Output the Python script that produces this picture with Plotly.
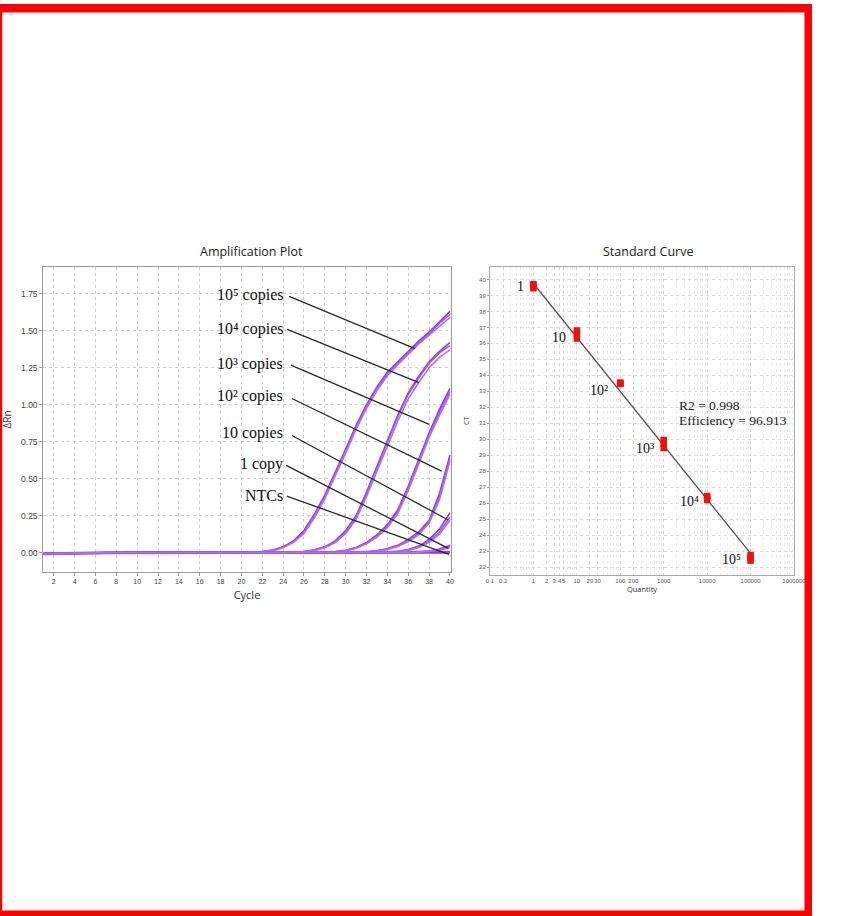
import math
import plotly.graph_objects as go

# ---------------- Amplification plot data ----------------
cycles = list(range(1, 41))
baseline = [-0.007, -0.005, -0.003, -0.002, -0.001, -0.001, 0.000, 0.000, 0.001, 0.001,
            0.002, 0.001, 0.001, 0.000, 0.001, 0.001, 0.001, 0.001, 0.002, 0.002,
            0.002, 0.002, 0.002, 0.002, 0.002, 0.002, 0.002, 0.002, 0.002, 0.003,
            0.003, 0.003, 0.003, 0.003, 0.003, 0.003, 0.004, 0.004, 0.004, 0.004]

# rising part of each replicate; first value belongs to the start cycle
start_1e5 = 21
rise_1e5_a = [0.004, 0.008, 0.018, 0.04, 0.08, 0.15, 0.26, 0.39, 0.54, 0.70, 0.86, 1.00, 1.12, 1.22, 1.29, 1.36, 1.43, 1.49, 1.56, 1.63]
rise_1e5_b = [0.003, 0.007, 0.016, 0.037, 0.075, 0.14, 0.25, 0.38, 0.53, 0.69, 0.85, 0.99, 1.11, 1.21, 1.28, 1.35, 1.42, 1.48, 1.55, 1.61]
rise_1e5_c = [0.003, 0.006, 0.014, 0.033, 0.07, 0.13, 0.235, 0.365, 0.515, 0.675, 0.835, 0.975, 1.095, 1.195, 1.27, 1.34, 1.41, 1.47, 1.53, 1.59]

start_1e4 = 25
rise_1e4_a = [0.003, 0.008, 0.02, 0.04, 0.08, 0.15, 0.25, 0.41, 0.58, 0.75, 0.93, 1.08, 1.19, 1.29, 1.36, 1.42]
rise_1e4_b = [0.003, 0.007, 0.018, 0.037, 0.075, 0.14, 0.24, 0.40, 0.57, 0.74, 0.92, 1.07, 1.18, 1.28, 1.35, 1.40]
rise_1e4_c = [0.002, 0.006, 0.015, 0.033, 0.068, 0.13, 0.225, 0.38, 0.55, 0.72, 0.89, 1.04, 1.15, 1.25, 1.32, 1.37]

start_1e3 = 28
rise_1e3_a = [0.003, 0.008, 0.017, 0.036, 0.07, 0.12, 0.19, 0.29, 0.45, 0.63, 0.81, 0.97, 1.11]
rise_1e3_b = [0.003, 0.007, 0.015, 0.033, 0.065, 0.115, 0.18, 0.28, 0.44, 0.62, 0.80, 0.95, 1.09]
rise_1e3_c = [0.002, 0.006, 0.013, 0.03, 0.06, 0.105, 0.17, 0.265, 0.42, 0.60, 0.78, 0.93, 1.07]

start_1e2 = 31
rise_1e2_a = [0.003, 0.007, 0.014, 0.028, 0.05, 0.09, 0.14, 0.22, 0.40, 0.66]
rise_1e2_b = [0.002, 0.006, 0.012, 0.025, 0.046, 0.083, 0.13, 0.21, 0.38, 0.64]
rise_1e2_c = [0.002, 0.005, 0.011, 0.022, 0.042, 0.076, 0.12, 0.20, 0.36, 0.62]

start_10 = 34
rise_10_a = [0.004, 0.01, 0.022, 0.045, 0.09, 0.16, 0.27]
rise_10_b = [0.003, 0.008, 0.018, 0.04, 0.08, 0.14, 0.24]
rise_10_c = [0.003, 0.007, 0.016, 0.035, 0.07, 0.125, 0.22]

start_1 = 37
rise_1_a = [0.006, 0.012, 0.025, 0.05]
rise_1_b = [0.005, 0.01, 0.02, 0.04]
rise_1_c = [0.004, 0.009, 0.018, 0.035]

amp_labels = ["10⁵ copies", "10⁴ copies", "10³ copies", "10² copies",
              "10 copies", "1 copy", "NTCs"]

# ---------------- Standard curve data ----------------
quantities = [1, 10, 100, 1000, 10000, 100000]
ct_rep1 = [39.45, 36.30, 33.45, 29.45, 26.20, 22.40]
ct_rep2 = [39.60, 36.60, 33.50, 29.70, 26.35, 22.60]
ct_rep3 = [39.70, 36.80, 33.55, 29.95, 26.45, 22.75]
fit_q = [1, 100000]
fit_ct = [39.75, 22.85]
std_labels = ["1", "10", "10²", "10³", "10⁴", "10⁵"]
r2_text = "R2 = 0.998"
eff_text = "Efficiency = 96.913"
sc_tick_vals = [0.1, 0.2, 1, 2, 3, 4, 5, 10, 20, 30, 100, 200, 1000, 10000, 100000, 1000000]
sc_tick_text = ["0.1", "0.2", "1", "2", "3", "4", "5", "10", "20", "30", "100", "200",
                "1000", "10000", "100000", "1000000"]

# ---------------- Figure ----------------
W, H = 859, 916
fig = go.Figure()

purple = ["rgb(140,60,222)", "rgb(160,85,235)", "rgb(175,110,242)"]
groups = [
    (start_1e5, [rise_1e5_a, rise_1e5_b, rise_1e5_c]),
    (start_1e4, [rise_1e4_a, rise_1e4_b, rise_1e4_c]),
    (start_1e3, [rise_1e3_a, rise_1e3_b, rise_1e3_c]),
    (start_1e2, [rise_1e2_a, rise_1e2_b, rise_1e2_c]),
    (start_10, [rise_10_a, rise_10_b, rise_10_c]),
    (start_1, [rise_1_a, rise_1_b, rise_1_c]),
]
# NTC baseline
fig.add_trace(go.Scatter(x=cycles, y=baseline, mode="lines",
                         line=dict(color="rgb(140,60,222)", width=3.0),
                         xaxis="x", yaxis="y", showlegend=False, hoverinfo="skip"))
for start, reps in groups:
    for i, rise in enumerate(reps):
        y = baseline[:start - 1] + rise
        fig.add_trace(go.Scatter(x=cycles, y=y, mode="lines",
                                 line=dict(color=purple[i], width=1.6),
                                 xaxis="x", yaxis="y", showlegend=False))

# standard curve
fig.add_trace(go.Scatter(x=fit_q, y=fit_ct, mode="lines",
                         line=dict(color="#555555", width=1.3),
                         xaxis="x2", yaxis="y2", showlegend=False))
for reps in (ct_rep1, ct_rep2, ct_rep3):
    fig.add_trace(go.Scatter(x=quantities, y=reps, mode="markers",
                             marker=dict(symbol="square", size=6.5, color="#ff0a0a",
                                         line=dict(width=0)),
                             xaxis="x2", yaxis="y2", showlegend=False))

def px2x(px):
    return px / W

def px2y(py):
    return 1 - py / H

# domains (pixel based)
L_left, L_right, L_top, L_bot = 43.3, 450.7, 267, 572
R_left, R_right, R_top, R_bot = 490, 794, 266.7, 575

grid = "#cfcfcf"

fig.update_layout(
    width=W, height=H, margin=dict(l=0, r=0, t=0, b=0),
    paper_bgcolor="white", plot_bgcolor="white", showlegend=False,
    xaxis=dict(domain=[px2x(L_left), px2x(L_right)], anchor="y",
               range=[1, 40.07], tickvals=list(range(2, 41, 2)), tickangle=0,
               showgrid=True, gridcolor=grid, griddash="dot", gridwidth=1,
               showline=True, mirror=True, linecolor="#9a9a9a", linewidth=1,
               ticks="outside", ticklen=3, tickcolor="#9a9a9a",
               tickfont=dict(family="Liberation Sans, Arial", size=7, color="#444"),
               zeroline=False, automargin=False,
               title=dict(text="Cycle", standoff=6,
                          font=dict(family="Open Sans, Arial", size=11, color="#333"))),
    yaxis=dict(domain=[px2y(L_bot), px2y(L_top)], anchor="x",
               range=[-0.13, 1.93], tickvals=[0, 0.25, 0.5, 0.75, 1.0, 1.25, 1.5, 1.75],
               tickformat=".2f",
               showgrid=True, gridcolor=grid, griddash="dot", gridwidth=1,
               showline=True, mirror=True, linecolor="#9a9a9a", linewidth=1,
               ticks="outside", ticklen=3, tickcolor="#9a9a9a",
               tickfont=dict(family="Liberation Sans, Arial", size=8.5, color="#444"),
               zeroline=False, automargin=False,
               title=dict(text="ΔRn", standoff=8,
                          font=dict(family="Open Sans, Arial", size=10, color="#333"))),
    xaxis2=dict(domain=[px2x(R_left), px2x(R_right)], anchor="y2", type="log",
                range=[-1, 6], tickmode="array", tickvals=sc_tick_vals, ticktext=sc_tick_text,
                tickangle=0,
                showgrid=True, gridcolor="#d6d6d6", griddash="dot",
                minor=dict(dtick="D1", showgrid=True, gridcolor="#ececec", griddash="dot"),
                showline=True, mirror=True, linecolor="#a8a8a8", linewidth=1,
                ticks="", tickfont=dict(family="Liberation Sans, Arial", size=6, color="#555"),
                zeroline=False, automargin=False,
                title=dict(text="Quantity", standoff=3,
                           font=dict(family="Open Sans, Arial", size=7.5, color="#333"))),
    yaxis2=dict(domain=[px2y(R_bot), px2y(R_top)], anchor="x2",
                range=[21.5, 40.8], dtick=1, tick0=0,
                showgrid=True, gridcolor="#dcdcdc", griddash="dot",
                showline=True, mirror=True, linecolor="#a8a8a8", linewidth=1,
                ticks="outside", ticklen=2, tickcolor="#a8a8a8",
                tickfont=dict(family="Liberation Sans, Arial", size=6, color="#555"),
                zeroline=False, automargin=False,
                title=dict(text="CT", standoff=8,
                           font=dict(family="Open Sans, Arial", size=7, color="#333"))),
)

serif = "Liberation Serif, Times New Roman, serif"
annotations = []
# chart titles
annotations.append(dict(xref="paper", yref="paper", x=px2x(251.7), y=px2y(251),
                        xanchor="center", yanchor="middle",
                        text="Amplification Plot", showarrow=False,
                        font=dict(family="Open Sans, Arial", size=12.5, color="#222")))
annotations.append(dict(xref="paper", yref="paper", x=px2x(648), y=px2y(252),
                        xanchor="center", yanchor="middle",
                        text="Standard Curve", showarrow=False,
                        font=dict(family="Open Sans, Arial", size=12.5, color="#222")))

# amplification labels with leader lines
label_pos = [(24.15, 1.744), (24.15, 1.513), (24.15, 1.277), (24.15, 1.059),
             (24.15, 0.808), (24.15, 0.601), (24.15, 0.385)]
leader_lines = [((24.58, 1.732), (36.65, 1.379)),
                ((24.39, 1.509), (37.03, 1.149)),
                ((24.74, 1.267), (38.00, 0.867)),
                ((24.84, 1.042), (39.20, 0.551)),
                ((24.84, 0.792), (39.84, 0.221)),
                ((24.29, 0.590), (39.84, 0.030)),
                ((24.35, 0.383), (39.90, -0.011))]
for text, (lx, ly) in zip(amp_labels, label_pos):
    annotations.append(dict(xref="x", yref="y", x=lx, y=ly, text=text, showarrow=False,
                            xanchor="right", yanchor="middle",
                            font=dict(family=serif, size=16, color="#111")))
shapes = []
for (p0, p1) in leader_lines:
    shapes.append(dict(type="line", xref="x", yref="y", x0=p0[0], y0=p0[1],
                       x1=p1[0], y1=p1[1], line=dict(color="#2a2a2a", width=1.3)))

# standard curve point labels
label_shift = [(-7, -1), (-9, -4), (-10, -7), (-8, -4), (-6, -4), (-8, -2)]
for text, q, ct, (dx, dy) in zip(std_labels, quantities, ct_rep2, label_shift):
    annotations.append(dict(xref="x2", yref="y2", x=math.log10(q), y=ct, text=text,
                            showarrow=False, xanchor="right", yanchor="middle",
                            xshift=dx, yshift=dy,
                            font=dict(family=serif, size=14, color="#111")))
annotations.append(dict(xref="paper", yref="paper", x=px2x(677), y=px2y(405.7), text=r2_text,
                        showarrow=False, xanchor="left", yanchor="middle",
                        font=dict(family=serif, size=13.5, color="#222")))
annotations.append(dict(xref="paper", yref="paper", x=px2x(677), y=px2y(420.5), text=eff_text,
                        showarrow=False, xanchor="left", yanchor="middle",
                        font=dict(family=serif, size=13.5, color="#222")))

# red frame
red = "#ff0000"
frame = [(0, 4, 812, 12.5), (804.5, 4, 812, 916), (0, 910.5, 812, 916), (0, 4, 2.2, 916)]
for x0, y0, x1, y1 in frame:
    shapes.append(dict(type="rect", xref="paper", yref="paper",
                       x0=px2x(x0), x1=px2x(x1), y0=px2y(y1), y1=px2y(y0),
                       fillcolor=red, line=dict(width=0), layer="above"))

fig.update_layout(annotations=annotations, shapes=shapes)
fig.write_html("out.html", config={"displayModeBar": False},
               post_script="document.body.style.margin='0px';")
